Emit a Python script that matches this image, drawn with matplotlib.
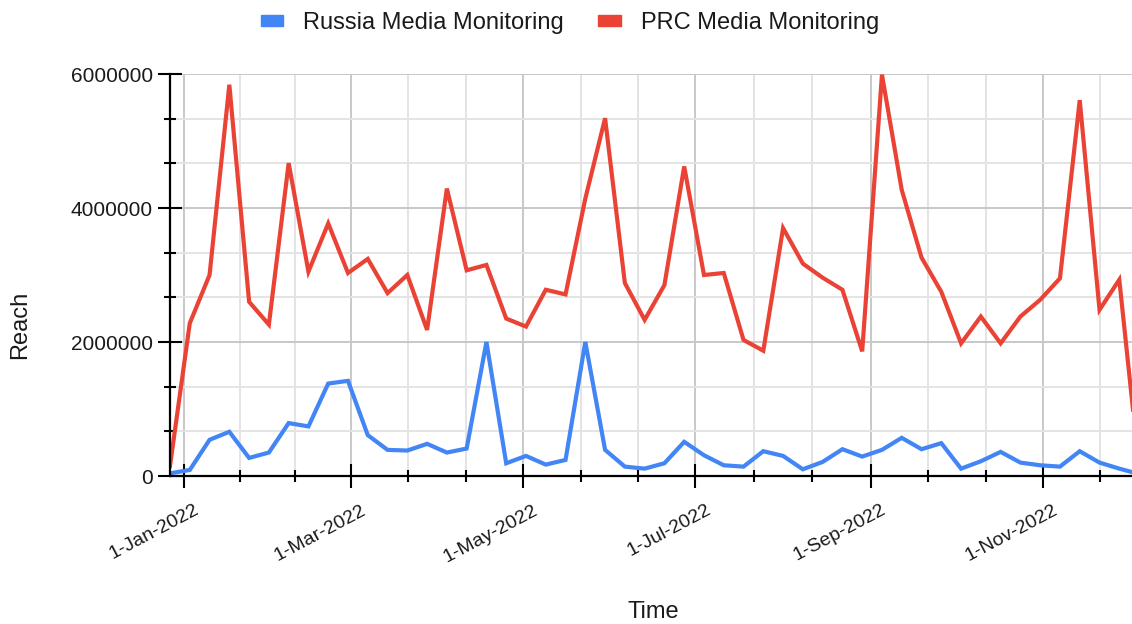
import matplotlib
matplotlib.use('Agg')
import matplotlib.pyplot as plt
import matplotlib.dates as mdates
import matplotlib.patches as mpatches
import matplotlib.transforms as mtransforms
import numpy as np
import pandas as pd

plt.rcParams['font.family'] = ['Liberation Sans', 'DejaVu Sans']

# weekly reach, week starting 27-Dec-2021
start = '2021-12-27'
n_weeks = 50
russia = [40000, 90000, 540000, 660000, 270000, 350000, 790000, 740000, 1380000, 1420000,
          610000, 390000, 380000, 480000, 350000, 410000, 2000000, 190000, 300000, 170000,
          240000, 2000000, 390000, 140000, 110000, 190000, 510000, 310000, 160000, 140000,
          370000, 300000, 100000, 210000, 400000, 290000, 390000, 570000, 400000, 490000,
          110000, 220000, 360000, 200000, 160000, 140000, 370000, 200000, 110000, 30000]
prc = [150000, 2280000, 3000000, 5840000, 2600000, 2260000, 4670000, 3050000, 3770000, 3030000,
       3240000, 2730000, 3000000, 2180000, 4290000, 3070000, 3150000, 2350000, 2230000, 2780000,
       2710000, 4140000, 5340000, 2880000, 2330000, 2850000, 4620000, 3000000, 3030000, 2030000,
       1870000, 3700000, 3170000, 2960000, 2780000, 1860000, 5990000, 4270000, 3260000, 2750000,
       1980000, 2380000, 1980000, 2380000, 2630000, 2950000, 5610000, 2480000, 2930000, 130000]

major_dates = ['2022-01-01', '2022-03-01', '2022-05-01', '2022-07-01', '2022-09-01', '2022-11-01', '2023-01-01']
y_major = [0, 2000000, 4000000, 6000000]

C_BLUE = '#4285F4'
C_RED = '#EA4335'
C_TEXT = '#1a1a1a'

dates = pd.date_range(start, periods=n_weeks, freq='7D')
x = mdates.date2num(dates.to_pydatetime())

fig = plt.figure(figsize=(11.32, 6.24), dpi=100)
ax = fig.add_axes([170/1132, 1 - 476/624, 1 - 170/1132, (476 - 74)/624])

ax.plot(x, russia, color=C_BLUE, lw=3, solid_joinstyle='miter', zorder=3)
ax.plot(x, prc, color=C_RED, lw=3, solid_joinstyle='miter', zorder=3)

x0 = mdates.date2num(pd.Timestamp('2021-12-27'))
x1 = mdates.date2num(pd.Timestamp('2022-12-02 12:00'))
ax.set_xlim(x0, x1)
ax.set_ylim(0, 6000000)

# ticks: labelled every two months, two unlabelled ticks between
mj = [mdates.date2num(pd.Timestamp(d)) for d in major_dates]
mn = []
for a, b in zip(mj[:-1], mj[1:]):
    mn += [a + (b - a) / 3, a + 2 * (b - a) / 3]
shown = [(d, m) for d, m in zip(major_dates, mj) if x0 <= m <= x1]
ax.set_xticks([m for d, m in shown])
ax.set_xticks([m for m in mn if x0 <= m <= x1], minor=True)
ax.set_xticklabels([])

# slanted date labels, anchored just right of each tick
lab_tr = ax.get_xaxis_transform() + mtransforms.ScaledTranslation(14/100, 0, fig.dpi_scale_trans)
for d, m in shown:
    ts = pd.Timestamp(d)
    ax.text(m, (476 - 509) / 402, f"{ts.day}-{ts:%b-%Y}", transform=lab_tr,
            rotation=28, ha='right', va='center', rotation_mode='anchor',
            fontsize=14, color=C_TEXT, clip_on=False)

ax.set_yticks(y_major)
ax.set_yticks([a + (b - a) * k / 3 for a, b in zip(y_major[:-1], y_major[1:]) for k in (1, 2)], minor=True)
ax.set_yticklabels([str(v) for v in y_major], fontsize=15, color=C_TEXT)

ax.tick_params(which='major', direction='inout', length=17, width=1.5, color='black')
ax.tick_params(which='minor', direction='inout', length=8, width=1.5, color='black')
ax.tick_params(axis='y', which='major', pad=4)

ax.grid(which='major', color='#c8c8c8', lw=1.4)
ax.grid(which='minor', color='#e4e4e4', lw=1.4)
ax.set_axisbelow(True)

for s in ['top', 'right']:
    ax.spines[s].set_visible(False)
for s in ['left', 'bottom']:
    ax.spines[s].set_color('black')
    ax.spines[s].set_linewidth(1.6)
    ax.spines[s].set_zorder(4)

ax.set_xlabel('Time', fontsize=17, color=C_TEXT, va='center')
ax.set_ylabel('Reach', fontsize=17, color=C_TEXT, va='center')
ax.xaxis.set_label_coords((653 - 170) / 962, (476 - 612) / 402)
ax.yaxis.set_label_coords((20 - 170) / 962, (476 - 325) / 402)

handles = [mpatches.Patch(color=C_BLUE, label='Russia Media Monitoring'),
           mpatches.Patch(color=C_RED, label='PRC Media Monitoring')]
fig.legend(handles=handles, loc='center', bbox_to_anchor=(570/1132, 1 - 23/624), ncol=2,
           frameon=False, fontsize=17, handlelength=0.95, handleheight=0.35,
           handletextpad=0.85, columnspacing=1.45, labelcolor=C_TEXT)

fig.savefig('out.png', dpi=100, facecolor='white')
